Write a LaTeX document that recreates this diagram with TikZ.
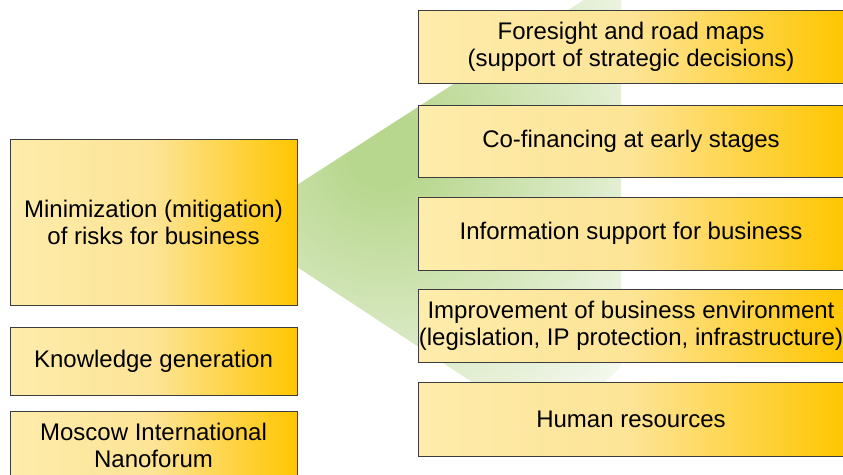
\documentclass[tikz,border=0pt]{standalone}
\usepackage{fontspec}
\setmainfont{Liberation Sans}
\definecolor{boxA}{RGB}{254,236,172}
\definecolor{boxM}{RGB}{253,228,150}
\definecolor{boxB}{RGB}{255,198,0}
\definecolor{fanA}{RGB}{184,215,142}
\definecolor{fanB}{RGB}{244,248,238}
\definecolor{edgecol}{RGB}{60,60,60}
\pgfdeclarehorizontalshading{boxshade}{100bp}{color(0bp)=(boxA); color(25bp)=(boxA); color(50bp)=(boxM); color(75bp)=(boxB); color(100bp)=(boxB)}
\pgfdeclareradialshading{fanshade}{\pgfpoint{0bp}{0bp}}{color(0bp)=(fanA); color(3bp)=(fanA); color(25bp)=(fanB); color(50bp)=(fanB)}
\begin{document}
\begin{tikzpicture}[x=1pt,y=-1pt,
  box/.style={draw=edgecol, line width=1pt, shade, shading=boxshade, align=center,
    inner sep=0pt, font=\fontsize{24}{27}\selectfont, text=black},
  rbox/.style={box, minimum width=426, minimum height=73},
  lbox/.style={box, minimum width=287}]
\useasboundingbox (0,0) rectangle (843,474);
\clip (0,0) rectangle (843,474);
% green fan behind the boxes
\begin{scope}
  \clip (297,185) -- (621,-24) -- (621,480) -- (297,267) -- cycle;
  \shade[shading=fanshade] (385,150) circle[radius=320];
\end{scope}
% left column
\node[lbox, minimum height=166] (risk) at (153.5,222) {Minimization (mitigation)\\of risks for business};
\node[lbox, minimum height=68] (know) at (153.5,361) {Knowledge generation};
\node[lbox, minimum height=69] (forum) at (153.5,445.5) {Moscow International\\Nanoforum};
% right column
\node[rbox] (fore) at (631,46.5) {Foresight and road maps\\(support of strategic decisions)};
\node[rbox, minimum height=72] (cofin) at (631,141) {Co-financing at early stages};
\node[rbox] (info) at (631,233.5) {Information support for business};
\node[rbox] (improve) at (631,325.5) {Improvement of business environment\\(legislation, IP protection, infrastructure)};
\node[rbox, minimum height=74] (human) at (631,419) {Human resources};
\end{tikzpicture}
\end{document}
